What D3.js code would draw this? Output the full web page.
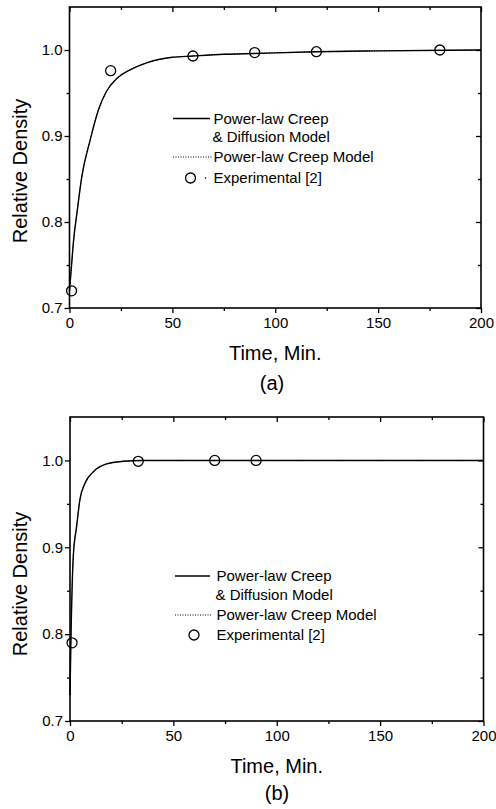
<!DOCTYPE html>
<html>
<head>
<meta charset="utf-8">
<script src="https://cdn.jsdelivr.net/npm/d3@7"></script>
<style>
  html, body { margin: 0; padding: 0; background: #fff; }
  svg { display: block; font-family: "Liberation Sans", Arial, sans-serif; }
</style>
</head>
<body>
<svg id="chart" width="496" height="809"></svg>
<script>
// ---------- data ----------
const modelTimeA = [0, 1, 2, 3.6, 6, 10, 14, 18, 23, 29.5, 37.5, 50, 60, 75, 90, 120, 150, 200];
const modelDensA = [0.72, 0.75, 0.779, 0.81, 0.853, 0.895, 0.93, 0.952, 0.967, 0.977, 0.985, 0.9915, 0.993, 0.995, 0.996, 0.998, 0.999, 1.0];
const expTimeA = [1, 20, 60, 90, 120, 180];
const expDensA = [0.72, 0.976, 0.993, 0.997, 0.998, 1.0];

const modelTimeB = [0, 0.5, 1.6, 3.2, 4.8, 7.3, 11.3, 17.7, 25.8, 35, 50, 100, 200];
const modelDensB = [0.73, 0.80, 0.89, 0.924, 0.955, 0.974, 0.987, 0.996, 0.999, 1.0, 1.0, 1.0, 1.0];
const expTimeB = [1, 33, 70, 90];
const expDensB = [0.79, 0.999, 1.0, 1.0];

const xMajorTicks = [0, 50, 100, 150, 200];
const xMinorTicks = [25, 75, 125, 175];
const yMajorTicks = [0.7, 0.8, 0.9, 1.0];
const yMinorTicks = [0.75, 0.85, 0.95];
const legendLabels = ["Power-law Creep", "& Diffusion Model", "Power-law Creep Model", "Experimental [2]"];
const xTitle = "Time, Min.";
const yTitle = "Relative Density";
const panelLabels = ["(a)", "(b)"];

// ---------- drawing ----------
const svg = d3.select("#chart");

function zip(a, b) { return a.map((v, i) => [v, b[i]]); }

function drawPanel(cfg) {
  const x = d3.scaleLinear().domain([0, 200]).range([cfg.left, cfg.right]);
  const y = d3.scaleLinear().domain([0.7, 1.05]).range([cfg.bottom, cfg.top]);
  const g = svg.append("g");

  const styleAxis = sel => {
    sel.select(".domain").remove();
    sel.selectAll("line").attr("stroke", "#000").attr("stroke-width", 1.3);
    sel.selectAll("text").attr("fill", "#000").style("font-size", "15px")
      .style("font-family", "'Liberation Sans', Arial, sans-serif");
  };

  // bottom
  g.append("g").attr("transform", `translate(0,${cfg.bottom})`)
    .call(d3.axisBottom(x).tickValues(xMajorTicks).tickSize(5).tickPadding(4).tickFormat(d3.format("d")))
    .call(styleAxis);
  g.append("g").attr("transform", `translate(0,${cfg.bottom})`)
    .call(d3.axisBottom(x).tickValues(xMinorTicks).tickSize(3).tickFormat(""))
    .call(styleAxis);
  // top (inward)
  g.append("g").attr("transform", `translate(0,${cfg.top})`)
    .call(d3.axisTop(x).tickValues(xMajorTicks).tickSize(-5).tickFormat(""))
    .call(styleAxis);
  g.append("g").attr("transform", `translate(0,${cfg.top})`)
    .call(d3.axisTop(x).tickValues(xMinorTicks).tickSize(-3).tickFormat(""))
    .call(styleAxis);
  // left
  g.append("g").attr("transform", `translate(${cfg.left},0)`)
    .call(d3.axisLeft(y).tickValues(yMajorTicks).tickSize(5).tickPadding(2).tickFormat(d3.format(".1f")))
    .call(styleAxis);
  g.append("g").attr("transform", `translate(${cfg.left},0)`)
    .call(d3.axisLeft(y).tickValues(yMinorTicks).tickSize(3).tickFormat(""))
    .call(styleAxis);
  // right (inward)
  g.append("g").attr("transform", `translate(${cfg.right},0)`)
    .call(d3.axisRight(y).tickValues(yMajorTicks).tickSize(-5).tickFormat(""))
    .call(styleAxis);
  g.append("g").attr("transform", `translate(${cfg.right},0)`)
    .call(d3.axisRight(y).tickValues(yMinorTicks).tickSize(-3).tickFormat(""))
    .call(styleAxis);

  // frame
  g.append("rect")
    .attr("x", cfg.left).attr("y", cfg.top)
    .attr("width", cfg.right - cfg.left).attr("height", cfg.bottom - cfg.top)
    .attr("fill", "none").attr("stroke", "#000").attr("stroke-width", 1.6);

  const line = d3.line().x(d => x(d[0])).y(d => y(d[1])).curve(d3.curveMonotoneX);
  const pts = zip(cfg.mt, cfg.md);
  // power-law creep model (dotted) – coincides with the solid curve
  g.append("path").datum(pts).attr("d", line)
    .attr("fill", "none").attr("stroke", "#000").attr("stroke-width", 1)
    .attr("stroke-dasharray", "1,1.5");
  // power-law creep & diffusion model (solid)
  g.append("path").datum(pts).attr("d", line)
    .attr("fill", "none").attr("stroke", "#000").attr("stroke-width", 1.4);

  // experimental points
  g.selectAll("circle.exp").data(zip(cfg.et, cfg.ed)).join("circle")
    .attr("class", "exp")
    .attr("cx", d => x(d[0])).attr("cy", d => y(d[1])).attr("r", 5)
    .attr("fill", "none").attr("stroke", "#000").attr("stroke-width", 1.3);

  // axis titles
  g.append("text")
    .attr("x", (cfg.left + cfg.right) / 2).attr("y", cfg.xTitleY)
    .attr("text-anchor", "middle").style("font-size", "20px").text(xTitle);
  g.append("text")
    .attr("transform", `translate(27,${cfg.yTitleY}) rotate(-90)`)
    .attr("text-anchor", "middle").style("font-size", "20px").text(yTitle);
  g.append("text")
    .attr("x", cfg.panelX).attr("y", cfg.panelY)
    .attr("text-anchor", "middle").style("font-size", "20px").text(cfg.label);

  // legend
  const L = cfg.legend;
  const lg = g.append("g").style("font-size", "15px");
  lg.append("line").attr("x1", L.lineX0).attr("x2", L.lineX1).attr("y1", L.rows[0] - 5).attr("y2", L.rows[0] - 5)
    .attr("stroke", "#000").attr("stroke-width", 1.3);
  lg.append("text").attr("x", L.textX).attr("y", L.rows[0]).text(legendLabels[0]);
  lg.append("text").attr("x", L.textX - 1).attr("y", L.rows[1]).text(legendLabels[1]);
  lg.append("line").attr("x1", L.lineX0).attr("x2", L.lineX1 + 2).attr("y1", L.rows[2] - 5).attr("y2", L.rows[2] - 5)
    .attr("stroke", "#000").attr("stroke-width", 1).attr("stroke-dasharray", "1,1.5");
  lg.append("text").attr("x", L.textX).attr("y", L.rows[2]).text(legendLabels[2]);
  lg.append("circle").attr("cx", L.circX).attr("cy", L.rows[3] - 5).attr("r", 5)
    .attr("fill", "none").attr("stroke", "#000").attr("stroke-width", 1.3);
  if (L.dot) {
    lg.append("circle").attr("cx", L.circX + 15).attr("cy", L.rows[3] - 5).attr("r", 0.8).attr("fill", "#000");
  }
  lg.append("text").attr("x", L.textX).attr("y", L.rows[3]).text(legendLabels[3]);
}

drawPanel({
  left: 69.5, right: 481, top: 7, bottom: 308,
  mt: modelTimeA, md: modelDensA, et: expTimeA, ed: expDensA,
  xTitleY: 360, yTitleY: 171, panelX: 272, panelY: 390, label: panelLabels[0],
  legend: { lineX0: 173, lineX1: 210, textX: 213.5, circX: 190.5, rows: [123.5, 142, 162, 183], dot: true }
});

drawPanel({
  left: 70, right: 483.5, top: 417, bottom: 721,
  mt: modelTimeB, md: modelDensB, et: expTimeB, ed: expDensB,
  xTitleY: 773, yTitleY: 584, panelX: 277, panelY: 800, label: panelLabels[1],
  legend: { lineX0: 175, lineX1: 210, textX: 216.5, circX: 194, rows: [581, 600, 620, 640], dot: false }
});
</script>
</body>
</html>
